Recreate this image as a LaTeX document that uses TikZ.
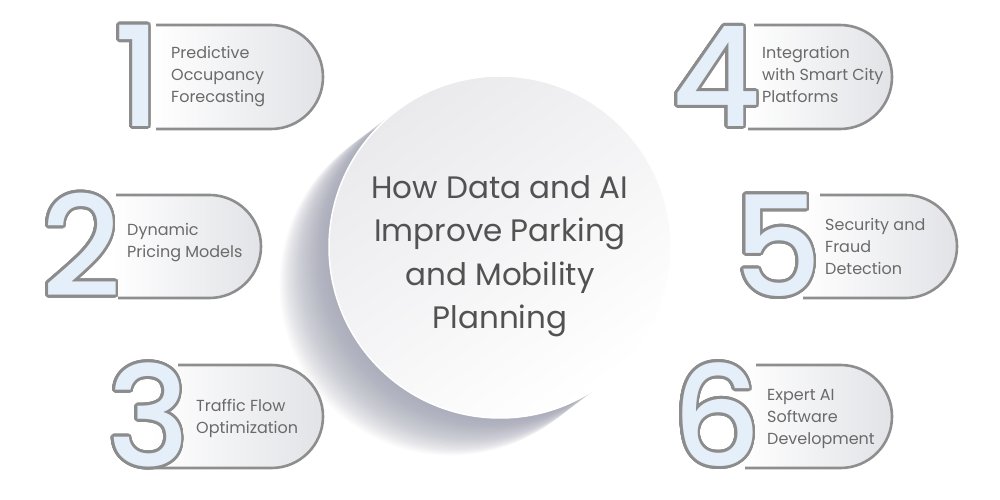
\documentclass[tikz,border=0pt]{standalone}
\usepackage{fontspec}
\setmainfont{Poppins}
\newfontfamily\digitfont{Poppins Medium}
\usepackage[copies]{contour}
\contourlength{2.6pt}
\contournumber{40}
\definecolor{pillline}{HTML}{8E8E8E}
\definecolor{digline}{HTML}{8C8C8C}
\definecolor{digfill}{HTML}{E5EFF9}
\definecolor{itemtxt}{HTML}{6A6A6A}
\definecolor{titletxt}{HTML}{525252}
\definecolor{pillgrey}{HTML}{E2E3E7}
\definecolor{shadowc}{HTML}{9A9CAE}
\definecolor{circtop}{HTML}{EAEAED}
\begin{document}
\begin{tikzpicture}[x=1pt,y=1pt,
  pill/.style={draw=pillline,line width=2.6pt},
  pillfill/.style={left color=white,right color=pillgrey},
  digit/.style={font=\digitfont\fontsize{139}{139}\selectfont, inner sep=0pt, anchor=base west, text=digfill},
  item/.style={font=\fontsize{16}{22}\selectfont, text=itemtxt, align=left, anchor=west, inner sep=0pt},
  title/.style={font=\fontsize{31}{43.5}\selectfont, text=titletxt, align=center, inner sep=0pt}
]
\fill[white] (0,0) rectangle (1000,500);
\useasboundingbox (0,0) rectangle (1000,500);

% shadow of the central disc
\foreach \i in {1,...,34}
  \fill[shadowc, opacity=0.04] (500-1.45*\i, 253-1.1*\i) circle[radius=171];

% pills
\shade[pillfill] (152,475) -- (271,475) arc[start angle=90,end angle=-90,radius=52] -- (152,371) -- cycle;
\draw[pill] (156,475) -- (271,475) arc[start angle=90,end angle=-90,radius=52] -- (156,371);

\shade[pillfill] (112,305) -- (209.5,305) arc[start angle=90,end angle=-90,radius=51.5] -- (112,202) -- cycle;
\draw[pill] (116,305) -- (209.5,305) arc[start angle=90,end angle=-90,radius=51.5] -- (118,202);

\shade[pillfill] (150,135) -- (271.5,135) arc[start angle=90,end angle=-90,radius=51.5] -- (150,32) -- cycle;
\draw[pill] (178,135) -- (271.5,135) arc[start angle=90,end angle=-90,radius=51.5] -- (155,32);

\shade[pillfill] (745,475) -- (840,475) arc[start angle=90,end angle=-90,radius=52] -- (745,371) -- cycle;
\draw[pill] (754,475) -- (840,475) arc[start angle=90,end angle=-90,radius=52] -- (748,371);

\shade[pillfill] (800,305) -- (905.5,305) arc[start angle=90,end angle=-90,radius=51.5] -- (800,202) -- cycle;
\draw[pill] (820,305) -- (905.5,305) arc[start angle=90,end angle=-90,radius=51.5] -- (803,202);

\shade[pillfill] (740,135) -- (840.5,135) arc[start angle=90,end angle=-90,radius=51.5] -- (740,32) -- cycle;
\draw[pill] (756,135) -- (840.5,135) arc[start angle=90,end angle=-90,radius=51.5] -- (745,32);

% digits
\node[digit] (d1) at (113,373.5) {\contour{digline}{1}};
\node[digit] (d2) at (41,203.5) {\contour{digline}{2}};
\node[digit] (d3) at (107,33.5) {\contour{digline}{3}};
\node[digit] (d4) at (671,373.5) {\contour{digline}{4}};
\node[digit] (d5) at (733,203.5) {\contour{digline}{5}};
\node[digit] (d6) at (672,33.5) {\contour{digline}{6}};

% item texts
\node[item] (t1) at (171,423) {Predictive\\Occupancy\\Forecasting};
\node[item] (t2) at (127,257) {Dynamic\\Pricing Models};
\node[item] (t3) at (196,82) {Traffic Flow\\Optimization};
\node[item] (t4) at (762,426) {Integration\\with Smart City\\Platforms};
\node[item] (t5) at (825,254) {Security and\\Fraud\\Detection};
\node[item] (t6) at (767,81) {Expert AI\\Software\\Development};

% central disc
\node[circle, minimum size=342pt, inner sep=0pt, top color=circtop, bottom color=white,
      shading angle=35, draw=white, line width=1.5pt] (c) at (500,253) {};
\node[title] (title) at (500,244) {How Data and AI\\Improve Parking\\and Mobility\\Planning};
\end{tikzpicture}
\end{document}
